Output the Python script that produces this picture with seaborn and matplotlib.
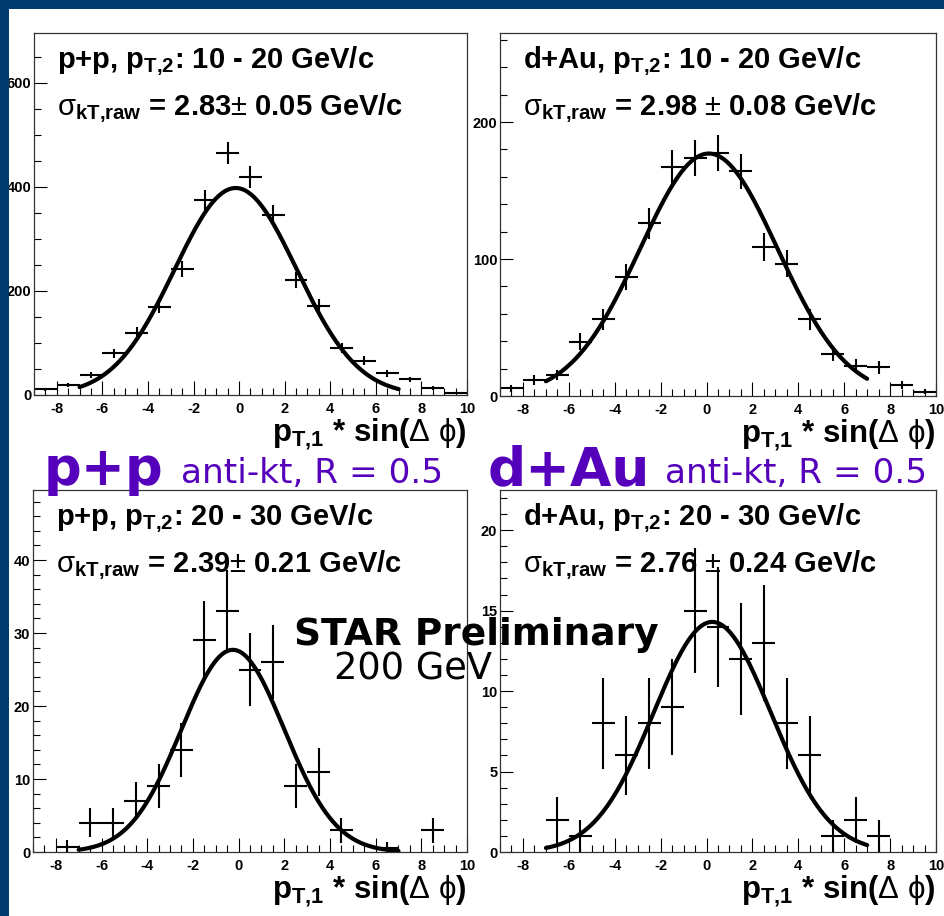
import numpy as np
import matplotlib
matplotlib.use("Agg")
import matplotlib.pyplot as plt
from matplotlib.patches import Rectangle
from matplotlib.ticker import MultipleLocator
import seaborn as sns

# bin centres of the p_T,1 * sin(dphi) histograms
bin_centers = [-8.5, -7.5, -6.5, -5.5, -4.5, -3.5, -2.5, -1.5, -0.5, 0.5,
               1.5, 2.5, 3.5, 4.5, 5.5, 6.5, 7.5, 8.5, 9.5]
nan = np.nan

# p+p, pT2 10-20
pp_low = [11, 19, 38, 80, 119, 170, 242, 375, 465, 419, 346, 221, 171, 90, 66, 42, 30, 13, 3]
pp_low_err = [3.3, 4.4, 6.2, 8.9, 10.9, 13.0, 15.6, 19.4, 21.6, 20.5, 18.6, 14.9, 13.1, 9.5, 8.1, 6.5, 5.5, 3.6, 1.7]
# d+Au, pT2 10-20
dau_low = [5.6, 11.7, 15.4, 39.7, 56, 87, 126, 167, 174, 177.5, 164, 108.8, 96.6, 56, 30.7, 22, 21, 8, 3.1]
dau_low_err = [2.4, 3.4, 3.9, 6.3, 7.5, 9.3, 11.2, 12.9, 13.2, 13.3, 12.8, 10.4, 9.8, 7.5, 5.5, 4.7, 4.6, 2.8, 1.8]
# p+p, pT2 20-30
pp_high = [nan, 0.7, 4, 4, 7, 9, 14, 29, 33, 25, 26, 9, 11, 3, nan, 0.6, nan, 3, nan]
pp_high_err = [nan, 0.9, 2.0, 2.0, 2.6, 3.0, 3.7, 5.4, 5.7, 5.0, 5.1, 3.0, 3.3, 1.7, nan, 0.8, nan, 1.7, nan]
# d+Au, pT2 20-30
dau_high = [nan, nan, 2, 1, 8, 6, 8, 9, 15, 14, 12, 13, 8, 6, 1, 2, 1, nan, nan]
dau_high_err = [nan, nan, 1.41, 1.0, 2.83, 2.45, 2.83, 3.0, 3.87, 3.74, 3.46, 3.61, 2.83, 2.45, 1.0, 1.41, 1.0, nan, nan]

# gaussian fit parameters: amplitude, mean, width
fit_amp = [398, 177, 27.7, 14.3]
fit_mean = [-0.15, 0.1, -0.25, 0.25]
fit_sigma = [2.68, 3.0, 2.25, 2.55]
fit_range = (-7, 7)

titles = [r"p+p, p$_{\mathbf{T{,}2}}$: 10 - 20 GeV/c",
          r"d+Au, p$_{\mathbf{T{,}2}}$: 10 - 20 GeV/c",
          r"p+p, p$_{\mathbf{T{,}2}}$: 20 - 30 GeV/c",
          r"d+Au, p$_{\mathbf{T{,}2}}$: 20 - 30 GeV/c"]
sigma_texts = [r"$\mathrm{\sigma}_{\mathbf{kT{,}raw}}$ = 2.83$\pm$ 0.05 GeV/c",
               r"$\mathrm{\sigma}_{\mathbf{kT{,}raw}}$ = 2.98 $\pm$ 0.08 GeV/c",
               r"$\mathrm{\sigma}_{\mathbf{kT{,}raw}}$ = 2.39$\pm$ 0.21 GeV/c",
               r"$\mathrm{\sigma}_{\mathbf{kT{,}raw}}$ = 2.76 $\pm$ 0.24 GeV/c"]
xlabel = r"p$_{\mathbf{T{,}1}}$ * sin($\Delta$ $\mathrm{\phi}$)"

ymax = [696, 265, 49.6, 22.5]
ymajor = [200, 100, 10, 5]
yminor = [50, 20, 2, 1]

sns.set_style("ticks")
plt.rcParams['font.family'] = ['Liberation Sans', 'DejaVu Sans']
plt.rcParams['mathtext.fontset'] = 'custom'
plt.rcParams['mathtext.rm'] = 'Liberation Sans'
plt.rcParams['mathtext.it'] = 'Liberation Sans:italic'
plt.rcParams['mathtext.bf'] = 'Liberation Sans:bold'
plt.rcParams['axes.unicode_minus'] = False
plt.rcParams['text.color'] = 'black'
plt.rcParams['xtick.color'] = 'black'
plt.rcParams['ytick.color'] = 'black'

W, H = 944, 916
fig = plt.figure(figsize=(W / 100, H / 100), dpi=100, facecolor='white')

def box(x0, y0, x1, y1):
    # pixel box -> figure fraction rect
    return [x0 / W, 1 - y1 / H, (x1 - x0) / W, (y1 - y0) / H]

boxes = [box(34, 33, 467, 395), box(500, 33, 936, 396),
         box(33, 490, 467, 852), box(500, 490, 936, 852)]
series = [(pp_low, pp_low_err), (dau_low, dau_low_err),
          (pp_high, pp_high_err), (dau_high, dau_high_err)]

for i in range(4):
    ax = fig.add_axes(boxes[i])
    vals, errs = series[i]
    ax.errorbar(bin_centers, vals, xerr=0.5, yerr=errs, fmt='none',
                ecolor='black', elinewidth=1.5, capsize=0)
    xs = np.linspace(fit_range[0], fit_range[1], 200)
    ys = fit_amp[i] * np.exp(-0.5 * ((xs - fit_mean[i]) / fit_sigma[i]) ** 2)
    sns.lineplot(x=xs, y=ys, ax=ax, color='black', linewidth=3.0)

    ax.set_xlim(-9, 10)
    ax.set_ylim(0, ymax[i])
    ax.xaxis.set_major_locator(MultipleLocator(2))
    ax.xaxis.set_minor_locator(MultipleLocator(0.5))
    ax.yaxis.set_major_locator(MultipleLocator(ymajor[i]))
    ax.yaxis.set_minor_locator(MultipleLocator(yminor[i]))
    ax.tick_params(which='both', direction='in', top=False, right=False,
                   width=0.8, colors='black')
    ax.tick_params(axis='x', which='major', length=10, pad=5)
    ax.tick_params(axis='x', which='minor', length=5)
    ax.tick_params(axis='y', which='major', length=9.5, pad=2)
    ax.tick_params(axis='y', which='minor', length=4.7)
    for lab in ax.get_xticklabels() + ax.get_yticklabels():
        lab.set_fontsize(10.5)
        lab.set_fontweight('bold')
    for sp in ax.spines.values():
        sp.set_color('#333333')
        sp.set_linewidth(0.9)
    ax.set_xlabel('')
    ax.set_ylabel('')

    ax.text(0.052, 0.903, titles[i], transform=ax.transAxes, fontsize=21,
            fontweight='bold', ha='left', va='baseline')
    ax.text(0.052, 0.774, sigma_texts[i], transform=ax.transAxes, fontsize=21,
            fontweight='bold', ha='left', va='baseline')
    ax.text(1.0, -0.127, xlabel, transform=ax.transAxes, fontsize=22.5,
            fontweight='bold', ha='right', va='baseline', clip_on=False)

purple = '#5500bb'
def ftext(x, y, s, **kw):
    fig.text(x / W, 1 - y / H, s, ha='left', va='baseline', zorder=20, **kw)

ftext(44, 485, "p+p", color=purple, fontsize=38, fontweight='bold', family='DejaVu Sans')
ftext(181, 483, "anti-kt, R = 0.5", color=purple, fontsize=24.7, family='DejaVu Sans')
ftext(488, 485, "d+Au", color=purple, fontsize=38.5, fontweight='bold', family='DejaVu Sans')
ftext(665, 483, "anti-kt, R = 0.5", color=purple, fontsize=24.7, family='DejaVu Sans')
ftext(294, 645, "STAR Preliminary", color='black', fontsize=27, fontweight='bold', family='DejaVu Sans')
ftext(334, 680, "200 GeV", color='black', fontsize=26.5, family='DejaVu Sans')

# slide border
navy = '#003a6e'
fig.patches.append(Rectangle((0, 0), 9 / W, 1, transform=fig.transFigure,
                             facecolor=navy, edgecolor='none', zorder=30))
fig.patches.append(Rectangle((0, 1 - 9 / H), 1, 9 / H, transform=fig.transFigure,
                             facecolor=navy, edgecolor='none', zorder=30))

fig.savefig("out.png", dpi=100, facecolor='white')
